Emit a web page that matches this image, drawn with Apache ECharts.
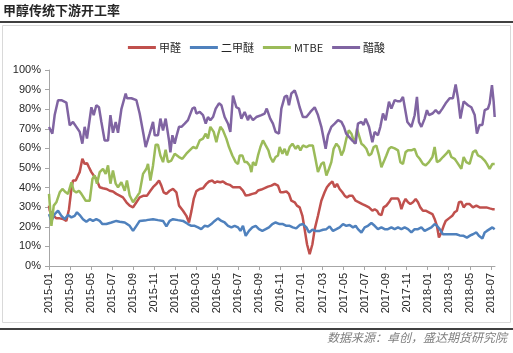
<!DOCTYPE html>
<html>
<head>
<meta charset="utf-8">
<script src="https://cdn.jsdelivr.net/npm/echarts@6/dist/echarts.min.js"></script>
<style>
html,body{margin:0;padding:0;background:#fff;}
#c{width:513px;height:353px;}
</style>
</head>
<body>
<div id="c"></div>
<script>
// Time values are months elapsed since 2015-01 (weekly observations)
var seriesNames = ['甲醛', '二甲醚', 'MTBE', '醋酸'];

var formaldehydeT = [0,0.07,0.38,0.7,1.02,1.33,1.65,1.9,2.13,2.28,2.54,2.76,2.92,3.17,3.39,3.61,3.8,4.03,4.25,4.5,4.82,5.13,5.45,5.77,6.08,6.4,6.72,7.03,7.36,7.67,7.99,8.31,8.62,9.0,9.32,9.64,9.89,10.21,10.46,10.68,10.9,11.16,11.47,11.79,12.11,12.36,12.74,13.06,13.31,13.54,13.76,14.01,14.33,14.64,14.96,15.21,15.53,15.75,15.97,16.29,16.54,16.86,17.18,17.49,17.81,18.13,18.44,18.7,19.01,19.33,19.65,19.87,20.19,20.5,20.82,21.14,21.45,21.77,22.0,22.24,22.57,22.81,23.04,23.36,23.57,23.83,24.09,24.3,24.53,24.78,25.04,25.26,25.57,25.89,26.2,26.42,26.68,26.94,27.16,27.38,27.63,27.89,28.11,28.33,28.58,28.84,29.15,29.47,29.79,30.1,30.42,30.74,30.96,31.18,31.37,31.6,31.81,32.07,32.32,32.55,32.77,32.96,33.18,33.34,33.5,33.72,33.9,34.13,34.35,34.6,34.86,35.08,35.3,35.55,35.81,36.12,36.45,36.66,36.88,37.07,37.3,37.52,37.71,38.02,38.34,38.56,38.78,38.97,39.2,39.42,39.67,39.99,40.3,40.63,40.94,41.25,41.58,41.89,42.15,42.37];
var formaldehydeV = [30.8,28.2,26,24.3,24.3,24,23,29,39.3,43.6,43.6,46.2,47.9,54.7,52.1,52.5,50.4,47.9,46.2,44.4,40.2,39.7,39.3,38.4,38,36.8,35.9,35,32.5,30.8,29.9,32.5,35,35.9,35.9,38.4,40.2,41.9,43.6,41,37.6,36.8,38.4,39.3,37.6,30.8,28.2,25.6,22.2,28,34.2,38.2,39.3,39.7,41.9,43.1,43.6,42.4,43.1,42.7,43.1,41.9,41.4,40.2,40.2,40.2,38.5,35.9,36.2,36.8,37.2,38.5,39,39.7,40.5,41,41.9,41,37.6,37.6,38,36.8,33.3,32.5,30.8,29.9,25.6,18.8,11.1,6,11.1,18.8,25.6,33.3,37.6,40.2,41.9,43.1,40.2,41.9,39.3,37.6,35.9,35,35.9,35.9,33.3,32.5,31.6,30.8,29.9,28.2,29,28.2,26.5,26,29.9,30.8,32.5,34.5,34.5,34.2,34.5,32.5,29,32.5,34.2,32.5,31.6,32.5,34.2,32.5,29.9,28.2,28.2,27.4,26.5,24,20.5,14.5,17.1,20.5,23,24.3,25.6,27.4,28.2,32.5,32.8,29.9,31.6,31.6,29.9,30.8,29.9,29.9,29.9,29.4,29,29];

var dmeT = [0,0.23,0.54,0.86,1.18,1.49,1.81,2.13,2.44,2.66,2.92,3.23,3.55,3.87,4.18,4.5,4.82,5.08,5.45,5.93,6.4,6.72,7.2,7.67,7.99,8.31,8.62,9.26,9.89,10.36,10.84,11.16,11.47,11.79,12.26,12.74,13.21,13.54,13.85,14.17,14.47,14.79,15.11,15.43,15.75,16.06,16.39,16.7,17.02,17.34,17.65,17.97,18.2,18.44,18.7,19.01,19.33,19.65,19.96,20.28,20.6,20.91,21.23,21.54,21.93,22.24,22.57,22.88,23.18,23.5,23.83,24.14,24.47,24.72,25.04,25.35,25.73,26.05,26.37,26.68,27.0,27.32,27.63,27.95,28.27,28.58,28.9,29.15,29.37,29.7,30.01,30.32,30.65,30.96,31.27,31.6,31.91,32.22,32.55,32.86,33.18,33.5,33.81,34.13,34.45,34.76,35.08,35.4,35.71,36.03,36.35,36.66,36.88,37.14,37.45,37.78,38.25,38.73,39.04,39.42,39.73,40.06,40.3,40.63,40.87,41.2,41.42,41.63,41.89,42.15,42.37];
var dmeV = [26.5,23,26.5,28.2,25.6,23.9,26,24.8,25.6,27.4,26,23.9,22.6,23.9,23,23.9,23,21.4,21.4,22.2,23,22.6,22.2,20.5,17.9,20.5,23,23.4,23.9,23.4,23,20.2,23,23.9,23.4,23,21.4,20.5,20.5,19.7,18.8,20.5,20.2,21.4,23,24.3,23,22.2,20.5,19.7,20.5,19.7,17.9,20.5,15.4,17.9,19.7,20.5,18.8,17.9,18.8,19.7,21.4,22.2,21.4,21.4,20.5,20.5,19.7,19.2,20.9,21.4,19.7,17.1,18.5,17.9,17.9,18.5,18.8,20.2,17.9,18.8,19.7,21.4,20.5,20.9,19.7,20.5,18.8,17.1,19.7,20.5,21.9,20.5,18.8,19.7,18.8,18.8,19.7,18.8,19.7,18.8,19.7,18.8,17.1,18.8,18.8,19.7,17.9,18.8,19.7,21.4,20.5,18.8,16.2,16.2,16.2,16.2,15.6,15.4,14.5,15.6,16.2,17.1,15.4,14,17.1,17.9,18.8,19.7,18.8];

var mtbeT = [0,0.23,0.45,0.7,1.02,1.27,1.59,1.81,2.13,2.35,2.6,2.85,3.08,3.23,3.49,3.87,4.13,4.34,4.56,4.82,5.13,5.39,5.61,5.84,6.08,6.34,6.56,6.88,7.2,7.41,7.67,7.99,8.31,8.62,8.94,9.26,9.41,9.64,9.89,10.14,10.36,10.59,10.84,11.09,11.31,11.63,11.95,12.36,12.68,13.06,13.37,13.69,14.01,14.33,14.64,14.9,15.11,15.34,15.66,15.91,16.06,16.29,16.54,16.86,17.11,17.43,17.75,17.97,18.13,18.38,18.6,18.82,19.08,19.24,19.39,19.65,19.87,20.1,20.34,20.6,20.86,21.03,21.29,21.54,21.77,21.93,22.19,22.4,22.62,22.88,23.14,23.45,23.67,23.9,24.14,24.47,24.76,25.08,25.33,25.57,25.89,26.11,26.37,26.62,26.84,27.06,27.32,27.57,27.8,28.02,28.27,28.5,28.75,28.9,29.06,29.28,29.47,29.7,29.91,30.17,30.42,30.65,30.87,31.12,31.37,31.6,31.81,32.07,32.32,32.55,32.86,33.18,33.4,33.65,33.9,34.13,34.45,34.76,34.98,35.24,35.55,35.81,36.12,36.45,36.66,36.88,37.14,37.45,37.77,38.02,38.25,38.56,38.78,38.97,39.2,39.42,39.67,39.99,40.3,40.56,40.78,41.1,41.42,41.63,41.89,42.15,42.37];
var mtbeV = [36.8,20.5,30.8,32.5,37.6,39.3,37.6,36.8,42.7,38.4,37.6,38.4,36.8,37.6,33.3,33.3,44.4,46.2,42,47.9,49.6,47,51.3,42,48.7,42,40.2,42.7,38.4,43.6,36,32.5,35,37.6,47,49.6,52.1,43.6,51.3,61.9,61.9,56.4,53,59.3,53,53.8,57.3,55.6,54.7,57.3,59,60.7,60,64.1,65,67.5,65,71,68.4,63.2,66.7,71,69.2,65,60.7,56.4,53,52,56.4,56.4,53,53,51.3,47.9,53,51.3,56.4,60.7,64.1,61.5,59,55.6,53,55.6,56.4,60.7,57.3,59.8,56.4,60.7,62.4,59.8,61.5,59,61.5,60.7,61.5,61.5,54.7,47.9,52.1,53,46.2,49.6,53,59.8,62.4,60.7,56.4,59,65,69.2,67.5,68.4,62.4,70,70,62.4,61.5,59.8,56.4,57.3,60.7,61.5,56.4,50.4,53,56.4,59.8,60.7,60,59,53,52.1,58.1,59,59,59.8,56.4,54.7,52.1,51.3,53,55.6,60.7,53,53.8,55.6,57.3,59,55.6,54.7,53,52.1,49.6,55.6,53,52.1,58.1,59,56.4,55.6,53.8,52.1,49.6,52.1,52.1];

var aceticT = [0,0.32,0.54,0.86,1.18,1.65,1.97,2.28,2.6,2.92,3.17,3.39,3.61,4.03,4.25,4.5,4.75,4.98,5.29,5.61,5.84,6.08,6.34,6.56,6.88,7.03,7.29,7.41,7.83,8.31,8.62,9.0,9.19,9.57,9.89,10.05,10.36,10.59,10.84,11.09,11.41,11.54,11.73,11.95,12.11,12.36,12.59,12.9,13.21,13.63,13.85,14.01,14.33,14.64,14.9,15.11,15.34,15.59,15.85,16.16,16.39,16.7,17.02,17.24,17.49,17.81,18.06,18.29,18.6,18.92,19.08,19.39,19.71,20.19,20.5,20.7,21.03,21.29,21.54,21.86,22.09,22.4,22.62,22.81,23.04,23.36,23.57,23.83,24.14,24.47,24.85,25.26,25.57,25.89,26.05,26.3,26.52,26.84,27.16,27.48,27.8,28.04,28.25,28.5,28.84,29.15,29.37,29.7,29.91,30.1,30.42,30.74,30.96,31.27,31.5,31.75,32.0,32.32,32.55,32.86,33.18,33.4,33.65,33.81,34.07,34.45,34.76,34.98,35.17,35.4,35.71,35.93,36.12,36.45,36.76,37.07,37.4,37.71,38.09,38.4,38.66,38.88,39.11,39.42,39.83,40.15,40.47,40.68,40.94,41.2,41.42,41.73,41.89,42.11,42.27,42.37];
var aceticV = [70.9,67.5,77,84.6,84.6,83.4,71.8,73.5,71,68.4,62.4,71,65,81,77,82,81,73.5,64,64,77,68,73.5,68,80,79.5,88,85.6,85.6,84.6,77.8,66.7,60.7,67.5,73.5,66.7,66.7,75.2,69.2,75.2,64,58,66.7,62.4,66,71,71,72.6,74.4,80.3,81,77.8,78.6,77,72.6,76,74.4,76,80.3,83,82,76,72.6,68.4,87,81,80.3,75.2,78.6,74.4,77,74.4,76,77,77.8,80.3,75.2,72.6,68.4,67.5,80.3,86.3,87,82,88,89.6,86.3,81,76,76,78.6,81,77,71,70,59.8,66.7,71,72.6,74.4,73.5,71,67.5,66,64,62.4,72.6,73.5,72,75.2,71,63.2,68.4,66.7,71,77.8,74.4,83.8,80.3,84.6,84,84,86.3,86.3,73.5,71,76.9,86.3,73.5,71,75.2,79.5,77,77.8,79.5,77.8,80.3,83,85.6,85.6,92.6,85.6,75.2,84,82,81,77,67.5,72,72,79.5,80.3,83,92.3,84,76];

var colors = ['#C0504D', '#4F81BD', '#9BBB59', '#8064A2'];

function pairs(t, v) { return t.map(function (x, i) { return [x, v[i]]; }); }

var chart = echarts.init(document.getElementById('c'), null, { renderer: 'canvas' });
var allT = [formaldehydeT, dmeT, mtbeT, aceticT];
var allV = [formaldehydeV, dmeV, mtbeV, aceticV];

chart.setOption({
  animation: false,
  color: colors,
  graphic: [
    { type: 'text', left: 3, top: 4, style: { text: '甲醇传统下游开工率', font: 'bold 13px "Noto Sans CJK SC"', fill: '#262626' } },
    { type: 'line', shape: { x1: 0, y1: 22, x2: 513, y2: 22 }, style: { stroke: '#000', lineWidth: 1.5 } },
    { type: 'rect', shape: { x: 2.5, y: 25.5, width: 508, height: 297 }, style: { fill: 'none', stroke: '#D9D9D9', lineWidth: 1 } },
    { type: 'line', shape: { x1: 0, y1: 329, x2: 513, y2: 329 }, style: { stroke: '#000', lineWidth: 1.5 } },
    { type: 'text', right: 6, top: 331, style: { text: '数据来源：卓创，盛达期货研究院', font: 'italic 12px "Noto Sans CJK SC"', fill: '#7F7F7F' } }
  ],
  legend: {
    top: 37,
    left: 'center',
    icon: 'rect',
    itemWidth: 28,
    itemHeight: 3,
    itemGap: 9,
    textStyle: { fontSize: 11, color: '#262626', fontFamily: '"Noto Sans CJK SC"', padding: [0, 0, 0, -2] },
    data: seriesNames
  },
  grid: { left: 49, right: 18, top: 70, bottom: 87, containLabel: false },
  xAxis: {
    type: 'value',
    min: 0,
    max: 42.4,
    interval: 2,
    splitLine: { show: false },
    axisLine: { lineStyle: { color: '#A6A6A6', width: 1 } },
    axisTick: { show: true, length: 4, lineStyle: { color: '#A6A6A6' } },
    axisLabel: {
      rotate: 90,
      margin: 7,
      fontSize: 11,
      color: '#262626',
      fontFamily: '"Liberation Sans", Arial',
      showMaxLabel: false,
      formatter: function (v) {
        if (Math.abs(v - Math.round(v)) > 1e-6 || Math.round(v) % 2 !== 0) return '';
        var m = Math.round(v);
        var y = 2015 + Math.floor(m / 12);
        var mo = (m % 12) + 1;
        return y + '-' + (mo < 10 ? '0' + mo : mo);
      }
    }
  },
  yAxis: {
    type: 'value',
    min: 0,
    max: 100,
    interval: 10,
    splitLine: { show: false },
    axisLine: { show: true, lineStyle: { color: '#A6A6A6', width: 1 } },
    axisTick: { show: true, length: 4, lineStyle: { color: '#A6A6A6' } },
    axisLabel: { fontSize: 11, color: '#262626', margin: 8, fontFamily: '"Liberation Sans", Arial', formatter: '{value}%' }
  },
  series: seriesNames.map(function (name, i) {
    return {
      name: name,
      type: 'line',
      symbol: 'none',
      data: pairs(allT[i], allV[i]),
      lineStyle: { width: 2.5, color: colors[i] },
      itemStyle: { color: colors[i] }
    };
  })
});
</script>
</body>
</html>
